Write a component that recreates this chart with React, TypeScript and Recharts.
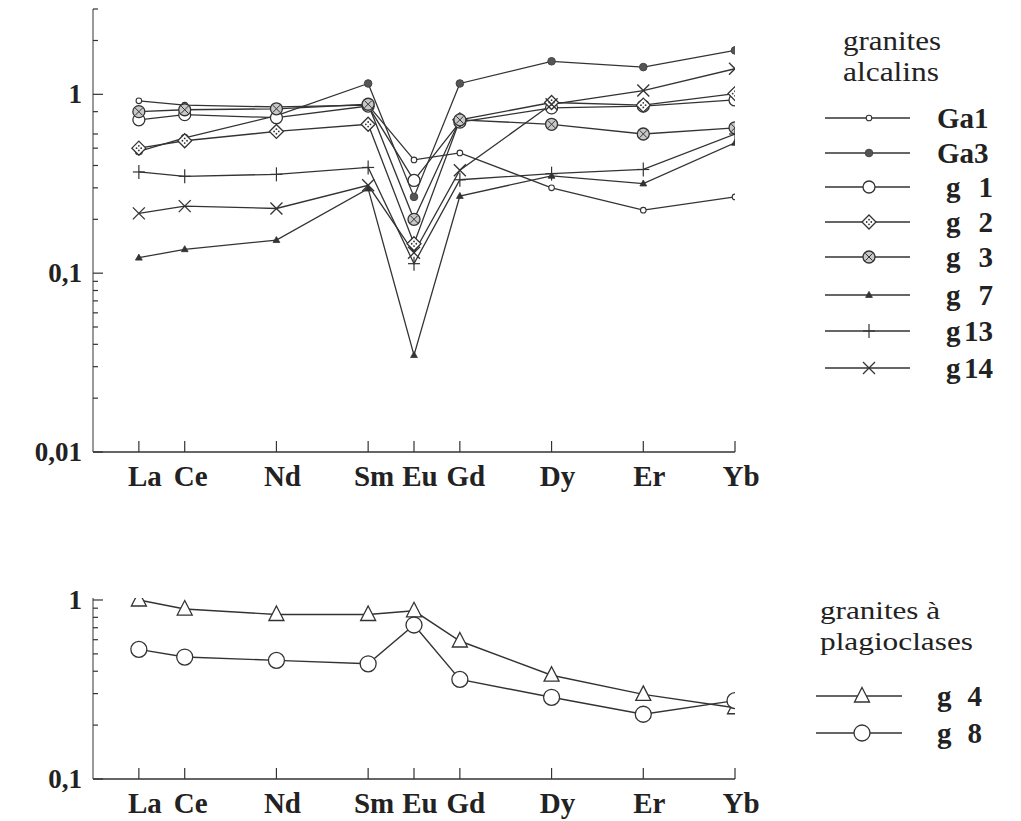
import React from "react";
import { LineChart, Line, XAxis, YAxis, Legend } from "recharts";

const FONT = "Liberation Serif, Times New Roman, serif";
const INK = "#333";

// x positions follow atomic number (La 57 ... Yb 70)
const elements = ["La", "Ce", "Nd", "Sm", "Eu", "Gd", "Dy", "Er", "Yb"];
const atomicNumbers = [57, 58, 60, 62, 63, 64, 66, 68, 70];

// granites alcalins (chondrite-normalised, log scale)
const ga1 = [0.92, 0.87, 0.85, 0.87, 0.43, 0.47, 0.3, 0.225, 0.267];
const ga3 = [0.48, 0.57, 0.76, 1.15, 0.267, 1.15, 1.53, 1.42, 1.76];
const g1 = [0.72, 0.77, 0.74, 0.86, 0.33, 0.7, 0.84, 0.86, 0.93];
const g2 = [0.5, 0.55, 0.62, 0.68, 0.146, 0.72, 0.9, 0.87, 1.01];
const g3 = [0.8, 0.82, 0.83, 0.88, 0.2, 0.72, 0.68, 0.6, 0.65];
const g7 = [0.122, 0.136, 0.153, 0.297, 0.0348, 0.27, 0.35, 0.317, 0.535];
const g13 = [0.368, 0.348, 0.357, 0.39, 0.113, 0.333, 0.36, 0.38, 0.6];
const g14 = [0.216, 0.237, 0.23, 0.31, 0.13, 0.376, 0.88, 1.05, 1.39];

// granites à plagioclases
const g4 = [1.0, 0.89, 0.83, 0.83, 0.87, 0.59, 0.38, 0.297, 0.25];
const g8 = [0.53, 0.48, 0.46, 0.44, 0.725, 0.36, 0.286, 0.23, 0.274];

const topYTicks = [3, 2, 1, 0.8, 0.6, 0.5, 0.4, 0.3, 0.2, 0.1, 0.09, 0.08, 0.07, 0.06, 0.05, 0.04, 0.03, 0.02, 0.01];
const topYLabels: [number, string][] = [[1, "1"], [0.1, "0,1"], [0.01, "0,01"]];
const bottomYTicks = [1, 0.9, 0.8, 0.7, 0.6, 0.5, 0.4, 0.3, 0.2, 0.1];
const bottomYLabels: [number, string][] = [[1, "1"], [0.1, "0,1"]];

const topSeries = [
  { key: "Ga1", name: "Ga", num: "1", values: ga1, marker: "small" },
  { key: "Ga3", name: "Ga", num: "3", values: ga3, marker: "filled" },
  { key: "g1", name: "g", num: "1", values: g1, marker: "circle" },
  { key: "g2", name: "g", num: "2", values: g2, marker: "diamond" },
  { key: "g3", name: "g", num: "3", values: g3, marker: "hatched" },
  { key: "g7", name: "g", num: "7", values: g7, marker: "triangleSmall" },
  { key: "g13", name: "g", num: "13", values: g13, marker: "plus" },
  { key: "g14", name: "g", num: "14", values: g14, marker: "cross" },
];

const bottomSeries = [
  { key: "g4", name: "g", num: "4", values: g4, marker: "triangleBig" },
  { key: "g8", name: "g", num: "8", values: g8, marker: "circleBig" },
];

const buildData = (series: typeof topSeries) =>
  atomicNumbers.map((z, i) => {
    const row: any = { z };
    series.forEach((s) => (row[s.key] = s.values[i]));
    return row;
  });

const topData = buildData(topSeries);
const bottomData = buildData(bottomSeries);

function Marker({ kind, cx, cy }: { kind: string; cx: number; cy: number }) {
  if (cx == null || cy == null || isNaN(cx) || isNaN(cy)) return <g />;
  switch (kind) {
    case "small":
      return <circle cx={cx} cy={cy} r={2.8} fill="#fff" stroke={INK} strokeWidth={1.1} />;
    case "filled":
      return <circle cx={cx} cy={cy} r={3.8} fill="#555" stroke="#444" strokeWidth={1} />;
    case "circle":
      return <circle cx={cx} cy={cy} r={6} fill="#fff" stroke={INK} strokeWidth={1.3} />;
    case "diamond":
      return (
        <g>
          <polygon
            points={`${cx},${cy - 7} ${cx + 7},${cy} ${cx},${cy + 7} ${cx - 7},${cy}`}
            fill="#fff"
            stroke={INK}
            strokeWidth={1.3}
          />
          <circle cx={cx - 2.3} cy={cy} r={0.9} fill={INK} />
          <circle cx={cx + 2.3} cy={cy} r={0.9} fill={INK} />
          <circle cx={cx} cy={cy - 2.3} r={0.9} fill={INK} />
          <circle cx={cx} cy={cy + 2.3} r={0.9} fill={INK} />
        </g>
      );
    case "hatched":
      return (
        <g>
          <circle cx={cx} cy={cy} r={6} fill="#c8c8c8" stroke={INK} strokeWidth={1.3} />
          <line x1={cx - 3.6} y1={cy - 3.6} x2={cx + 3.6} y2={cy + 3.6} stroke={INK} strokeWidth={1} />
          <line x1={cx - 3.6} y1={cy + 3.6} x2={cx + 3.6} y2={cy - 3.6} stroke={INK} strokeWidth={1} />
        </g>
      );
    case "triangleSmall":
      return <polygon points={`${cx},${cy - 3.6} ${cx + 3.4},${cy + 2.4} ${cx - 3.4},${cy + 2.4}`} fill={INK} stroke={INK} strokeWidth={0.8} />;
    case "plus":
      return (
        <g stroke={INK} strokeWidth={1.2}>
          <line x1={cx} y1={cy - 7} x2={cx} y2={cy + 7} />
          <line x1={cx - 6} y1={cy} x2={cx + 6} y2={cy} />
        </g>
      );
    case "cross":
      return (
        <g stroke={INK} strokeWidth={1.3}>
          <line x1={cx - 6} y1={cy - 6} x2={cx + 6} y2={cy + 6} />
          <line x1={cx - 6} y1={cy + 6} x2={cx + 6} y2={cy - 6} />
        </g>
      );
    case "triangleBig":
      return <polygon points={`${cx},${cy - 8.5} ${cx + 7.5},${cy + 6} ${cx - 7.5},${cy + 6}`} fill="#fff" stroke={INK} strokeWidth={1.3} />;
    case "circleBig":
      return <circle cx={cx} cy={cy} r={8} fill="#fff" stroke={INK} strokeWidth={1.3} />;
    default:
      return <g />;
  }
}

const textStyle = { fontFamily: FONT };

const XTick = (props: any) => {
  const { x, y, payload } = props;
  const i = atomicNumbers.indexOf(payload.value);
  return (
    <g>
      <line x1={x} x2={x} y1={y} y2={y - 11} stroke={INK} strokeWidth={1.2} />
      <text x={x + 6} y={y + 34} textAnchor="middle" style={textStyle} fontWeight="bold" fontSize={29} fill="#222">
        {elements[i]}
      </text>
    </g>
  );
};

const makeYTick = (labels: [number, string][]) => (props: any) => {
  const { x, y, payload } = props;
  const hit = labels.find(([v]) => Math.abs(v - payload.value) < 1e-9);
  const ax = x + 11;
  return (
    <g>
      <line x1={ax} x2={ax + (hit ? 10 : 5)} y1={y} y2={y} stroke={INK} strokeWidth={1.2} />
      {hit && (
        <text x={x} y={y + 9} textAnchor="end" style={textStyle} fontWeight="bold" fontSize={27} fill="#222">
          {hit[1]}
        </text>
      )}
    </g>
  );
};

type LegendProps = {
  left: number;
  top: number;
  title: { text: string; y: number; width: number }[];
  titleX: number;
  titleSize: number;
  rows: { series: any; y: number }[];
  lineX: [number, number];
  markX: number;
  gX: number;
  gaX: number;
  numX: number;
};

function SeriesLegend(p: LegendProps) {
  return (
    <svg width={241} height={420} style={{ display: "block", overflow: "visible" }}>
      <g transform={`translate(${-p.left},${-p.top})`}>
        {p.title.map((t) => (
          <text
            key={t.text}
            x={p.titleX}
            y={t.y}
            style={textStyle}
            fontSize={p.titleSize}
            fill="#222"
            textLength={t.width}
            lengthAdjust="spacingAndGlyphs"
          >
            {t.text}
          </text>
        ))}
        {p.rows.map(({ series, y }) => (
          <g key={series.key}>
            <line x1={p.lineX[0]} x2={p.lineX[1]} y1={y} y2={y} stroke={INK} strokeWidth={1.3} />
            <Marker kind={series.marker} cx={p.markX} cy={y} />
            {series.name === "Ga" ? (
              <text x={p.gaX} y={y + 10} style={textStyle} fontWeight="bold" fontSize={29} fill="#222">
                {series.name + series.num}
              </text>
            ) : (
              <g>
                <text x={p.gX} y={y + 10} style={textStyle} fontWeight="bold" fontSize={29} fill="#222">
                  g
                </text>
                <text x={p.numX} y={y + 10} textAnchor="end" style={textStyle} fontWeight="bold" fontSize={29} fill="#222">
                  {series.num}
                </text>
              </g>
            )}
          </g>
        ))}
      </g>
    </svg>
  );
}

const topRowsY = [118, 153, 187, 222, 257, 295, 331, 368];

export default function App() {
  return (
    <div style={{ position: "absolute", left: 0, top: 0, width: 1021, height: 821, background: "#fff" }}>
      <div style={{ position: "absolute", left: 0, top: 0 }}>
        <LineChart width={1021} height={500} data={topData} margin={{ top: 9, right: 286, bottom: 0, left: 0 }}>
          <XAxis
            dataKey="z"
            type="number"
            domain={[56, 70]}
            ticks={atomicNumbers}
            interval={0}
            allowDataOverflow
            height={48}
            tickSize={0}
            tickMargin={0}
            tickLine={false}
            axisLine={{ stroke: INK, strokeWidth: 1.4 }}
            tick={XTick}
          />
          <YAxis
            type="number"
            scale="log"
            domain={[0.01, 3]}
            ticks={topYTicks}
            interval={0}
            allowDataOverflow
            width={93}
            tickSize={0}
            tickMargin={11}
            tickLine={false}
            axisLine={{ stroke: "#555", strokeWidth: 1.2 }}
            tick={makeYTick(topYLabels)}
          />
          <Legend
            layout="vertical"
            align="center"
            verticalAlign="middle"
            wrapperStyle={{ left: 780, top: 0, width: 241, height: 420 }}
            content={() => (
              <SeriesLegend
                left={780}
                top={0}
                title={[
                  { text: "granites", y: 50, width: 98 },
                  { text: "alcalins", y: 81, width: 96 },
                ]}
                titleX={843}
                titleSize={27}
                rows={topSeries.map((s, i) => ({ series: s, y: topRowsY[i] }))}
                lineX={[825, 910]}
                markX={869}
                gX={946}
                gaX={937}
                numX={993}
              />
            )}
          />
          {topSeries.map((s) => (
            <Line
              key={s.key}
              dataKey={s.key}
              type="linear"
              stroke={INK}
              strokeWidth={1.3}
              isAnimationActive={false}
              activeDot={false}
              dot={(p: any) => <Marker key={`${s.key}-${p.index}`} kind={s.marker} cx={p.cx} cy={p.cy} />}
            />
          ))}
        </LineChart>
      </div>
      <div style={{ position: "absolute", left: 0, top: 560 }}>
        <LineChart width={1021} height={260} data={bottomData} margin={{ top: 38, right: 286, bottom: 0, left: 0 }}>
          <XAxis
            dataKey="z"
            type="number"
            domain={[56, 70]}
            ticks={atomicNumbers}
            interval={0}
            allowDataOverflow
            height={41}
            tickSize={0}
            tickMargin={0}
            tickLine={false}
            axisLine={{ stroke: INK, strokeWidth: 1.4 }}
            tick={XTick}
          />
          <YAxis
            type="number"
            scale="log"
            domain={[0.1, 1.026]}
            ticks={bottomYTicks}
            interval={0}
            allowDataOverflow
            width={93}
            tickSize={0}
            tickMargin={11}
            tickLine={false}
            axisLine={{ stroke: "#555", strokeWidth: 1.2 }}
            tick={makeYTick(bottomYLabels)}
          />
          <Legend
            layout="vertical"
            align="center"
            verticalAlign="middle"
            wrapperStyle={{ left: 780, top: 0, width: 241, height: 260 }}
            content={() => (
              <SeriesLegend
                left={780}
                top={560}
                title={[
                  { text: "granites à", y: 619, width: 120 },
                  { text: "plagioclases", y: 650, width: 153 },
                ]}
                titleX={820}
                titleSize={25}
                rows={bottomSeries.map((s, i) => ({ series: s, y: [696, 733][i] }))}
                lineX={[816, 902]}
                markX={862}
                gX={937}
                gaX={937}
                numX={982}
              />
            )}
          />
          {bottomSeries.map((s) => (
            <Line
              key={s.key}
              dataKey={s.key}
              type="linear"
              stroke={INK}
              strokeWidth={1.4}
              isAnimationActive={false}
              activeDot={false}
              dot={(p: any) => <Marker key={`${s.key}-${p.index}`} kind={s.marker} cx={p.cx} cy={p.cy} />}
            />
          ))}
        </LineChart>
      </div>
    </div>
  );
}
